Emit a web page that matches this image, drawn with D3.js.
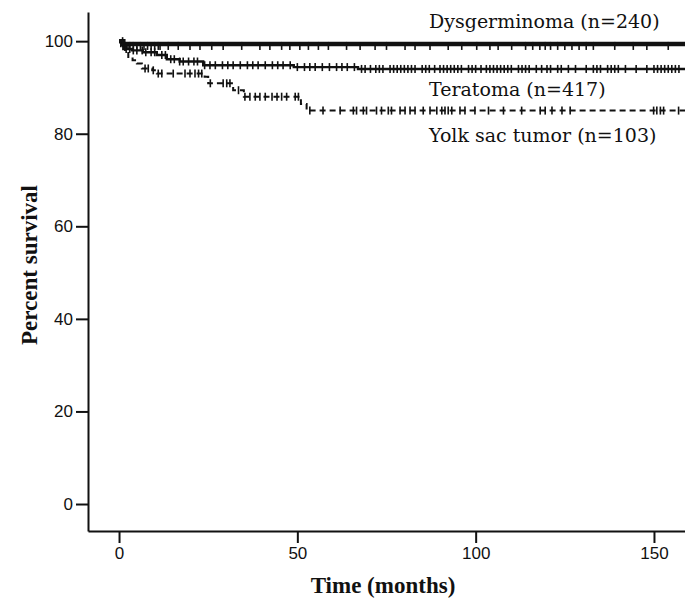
<!DOCTYPE html>
<html>
<head>
<meta charset="utf-8">
<script src="https://cdn.jsdelivr.net/npm/d3@7"></script>
<style>
  body { margin: 0; background: #fff; }
  svg { display: block; }
</style>
</head>
<body>
<svg id="chart"></svg>
<script>
// Kaplan-Meier curves, values
const endMonth = 158.7;

const dysTimes = [0, 1.2];
const dysSurv = [100, 99.4];
const dysCensor = [0.5, 1, 1.5, 2, 2.5, 3, 4, 5, 6, 7, 8, 9, 10, 11, 11.5, 13.8, 16.6, 19.9, 22.7, 26, 29.2,
  34.4, 39.5, 42.3, 45.6, 47.9, 50.7, 53.1, 55.9, 58.7, 63.8, 67.6, 71.8, 75, 80.2, 83, 87.2, 92.3, 96.1,
  100.3, 104, 106.3, 110.1, 114, 116, 118, 119.5, 121, 123, 125, 127, 129, 131, 133, 139, 144.2, 148, 154];

const terTimes = [0, 1.2, 3.6, 6.7, 10.6, 13.4, 17, 23.6, 49, 67];
const terSurv = [100, 98.3, 98.0, 97.6, 97.0, 96.1, 95.6, 94.8, 94.4, 94.0];
const terCensor = [1, 2, 3, 4, 5, 6.5, 7.5, 9, 10, 12, 13, 14.5, 15.5, 17, 18, 19.5, 21, 22, 24, 25.5, 27, 29,
  30.5, 32, 34, 36, 37.5, 39, 41, 43, 44.5, 46, 48, 50, 52, 53.5, 55, 57, 59, 61, 62.5, 64, 66, 68, 69, 70.5,
  72, 73, 74, 76, 77, 78, 79, 80, 81, 82, 83, 85, 86, 87, 88.5, 90, 91, 92, 93, 94, 95, 96, 98, 99, 100,
  101.5, 103, 104, 105, 106, 107, 108, 109, 110, 112, 113, 114, 115, 117, 118.5, 120, 121, 123, 124, 126,
  128, 131, 133, 134, 135, 137, 138, 139, 140, 142, 145, 148, 150, 151, 152, 153, 154, 155, 156, 157];

const yolkTimes = [0, 1.7, 2.6, 3.8, 5, 6.4, 9.3, 10.6, 24, 25, 32, 35, 51, 52.6];
const yolkSurv = [100, 98.1, 96.6, 95.9, 95.2, 94.1, 93.7, 93.0, 92.3, 90.9, 89.4, 88.0, 86.4, 85.0];
const yolkCensor = [7.3, 8.2, 9.6, 11, 12, 15.2, 18.5, 19.9, 21.3, 22.3, 23.2, 25.6, 29.2, 30.2, 31.1, 33.5,
  35.3, 36.7, 38.2, 39.5, 41, 42.9, 44.3, 45.6, 47, 49.4, 50.3, 53.5, 57.2, 62, 65.7, 66.6, 68.5, 69.4,
  72.2, 73.6, 75.5, 76.4, 78.8, 80.2, 81.6, 83, 85.3, 87.2, 89.1, 90.5, 91.4, 92.3, 93.3, 95.6, 97, 99.8,
  103.6, 107.8, 112.9, 118.1, 119.5, 121.4, 124.2, 126.5, 149.9, 150.8, 151.8, 152.7, 156.9];

const seriesLabels = ["Dysgerminoma (n=240)", "Teratoma (n=417)", "Yolk sac tumor (n=103)"];
const xTicks = [0, 50, 100, 150];
const yTicks = [0, 20, 40, 60, 80, 100];

const width = 685, height = 610;
const svg = d3.select("#chart").attr("width", width).attr("height", height);

const x = d3.scaleLinear().domain([-8.7, endMonth]).range([88, 685]);
const y = d3.scaleLinear().domain([-5.83, 106.3]).range([531, 12]);
const ink = "#111";

// axes
const yAxis = svg.append("g").attr("transform", `translate(${x(-8.7)},0)`)
  .call(d3.axisLeft(y).tickValues(yTicks).tickSize(12).tickPadding(3).tickSizeOuter(0));
const xAxis = svg.append("g").attr("transform", `translate(0,${y(-5.83)})`)
  .call(d3.axisBottom(x).tickValues(xTicks).tickSize(12).tickPadding(4).tickSizeOuter(0));

[yAxis, xAxis].forEach(g => {
  g.select(".domain").attr("stroke", ink).attr("stroke-width", 2);
  g.selectAll(".tick line").attr("stroke", ink).attr("stroke-width", 2);
  g.selectAll(".tick text").attr("fill", ink)
    .style("font-family", "'Liberation Sans', Arial, sans-serif").style("font-size", "17px");
});

// survival step curves
function stepPoints(times, surv) {
  const pts = times.map((t, i) => [t, surv[i]]);
  pts.push([endMonth, surv[surv.length - 1]]);
  return pts;
}
function survAt(times, surv, t) {
  let s = surv[0];
  times.forEach((tt, i) => { if (tt <= t) s = surv[i]; });
  return s;
}

const line = d3.line().x(d => x(d[0])).y(d => y(d[1])).curve(d3.curveStepAfter);

const series = [
  { times: dysTimes, surv: dysSurv, censor: dysCensor, w: 4.5, dash: null, tUp: 2, tDown: 6 },
  { times: terTimes, surv: terSurv, censor: terCensor, w: 2.4, dash: null, tUp: 4, tDown: 4 },
  { times: yolkTimes, surv: yolkSurv, censor: yolkCensor, w: 2, dash: "6,4", tUp: 4, tDown: 4 }
];

series.forEach(s => {
  svg.append("path")
    .attr("d", line(stepPoints(s.times, s.surv)))
    .attr("fill", "none")
    .attr("stroke", ink)
    .attr("stroke-width", s.w)
    .attr("stroke-dasharray", s.dash);

  svg.append("g").selectAll("line")
    .data(s.censor)
    .join("line")
    .attr("x1", d => x(d)).attr("x2", d => x(d))
    .attr("y1", d => y(survAt(s.times, s.surv, d)) - s.tUp)
    .attr("y2", d => y(survAt(s.times, s.surv, d)) + s.tDown)
    .attr("stroke", ink)
    .attr("stroke-width", 1.6);
});

// curve labels
const labelY = [28, 96, 142];
svg.append("g").selectAll("text")
  .data(seriesLabels)
  .join("text")
  .attr("x", 429)
  .attr("y", (d, i) => labelY[i])
  .attr("fill", ink)
  .style("font-family", "'DejaVu Serif', serif")
  .style("font-size", "19px")
  .text(d => d);

// axis titles
svg.append("text")
  .attr("transform", "translate(37,265) rotate(-90)")
  .attr("text-anchor", "middle")
  .attr("fill", ink)
  .style("font-family", "'Liberation Serif', 'Times New Roman', serif")
  .style("font-weight", "bold")
  .style("font-size", "23px")
  .text("Percent survival");

svg.append("text")
  .attr("x", 383).attr("y", 593)
  .attr("text-anchor", "middle")
  .attr("fill", ink)
  .style("font-family", "'Liberation Serif', 'Times New Roman', serif")
  .style("font-weight", "bold")
  .style("font-size", "23px")
  .text("Time (months)");
</script>
</body>
</html>
